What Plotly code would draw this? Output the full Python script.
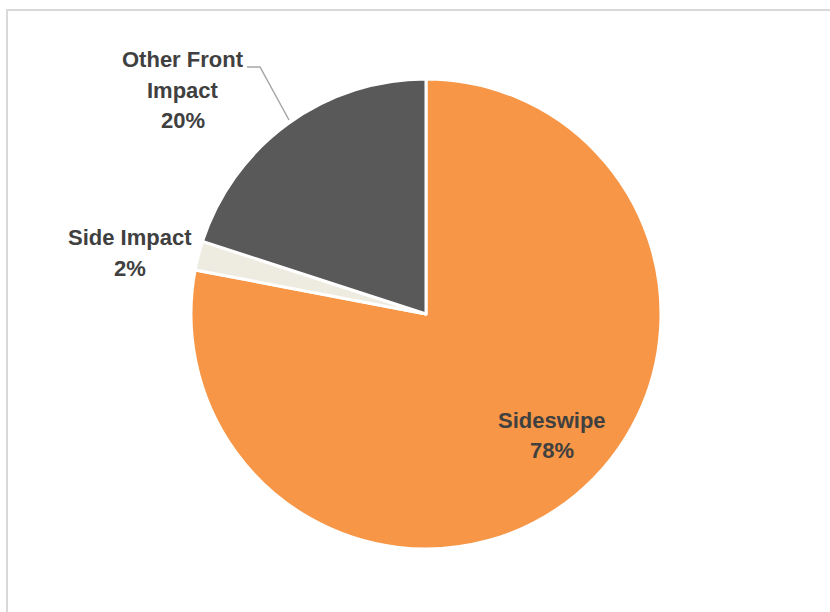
import plotly.graph_objects as go

# Crash type shares
categories = ["Sideswipe", "Side Impact", "Other Front Impact"]
shares = [78, 2, 20]
colors = ["#F79646", "#EEECE1", "#595959"]

# Wrapped label lines for each category
label_lines = [["Sideswipe"], ["Side Impact"], ["Other Front", "Impact"]]

W, H = 830, 612
cx, cy, r = 426, 314, 235

def px(x):
    return x / W

def py(y):
    return 1 - y / H

fig = go.Figure(
    go.Pie(
        labels=categories,
        values=shares,
        sort=False,
        direction="clockwise",
        rotation=0,
        marker=dict(colors=colors, line=dict(color="#FFFFFF", width=3)),
        textinfo="none",
        hoverinfo="label+percent",
        showlegend=False,
        domain=dict(x=[px(cx - r), px(cx + r)], y=[py(cy + r), py(cy - r)]),
    )
)

# Label anchor (center x, first line center y) for each category, in pixels
label_pos = [(552, 420), (130, 238), (183, 60)]
line_gap = 30.5

label_font = dict(
    family="Liberation Sans, Arial, sans-serif",
    size=22,
    color="#404040",
    weight="bold",
)

total = sum(shares)
annotations = []
for lines, val, (lx, ly) in zip(label_lines, shares, label_pos):
    pct = f"{round(val / total * 100)}%"
    for i, t in enumerate(lines + [pct]):
        annotations.append(
            dict(
                x=px(lx), y=py(ly + i * line_gap), xref="paper", yref="paper",
                text=t, showarrow=False, xanchor="center", yanchor="middle",
                font=label_font,
            )
        )

shapes = [
    # chart frame
    dict(type="rect", xref="paper", yref="paper",
         x0=px(7), y0=py(640), x1=px(860), y1=py(10),
         line=dict(color="#D9D9D9", width=2), fillcolor="rgba(0,0,0,0)", layer="below"),
    # leader line for the small-slice label
    dict(type="path", xref="paper", yref="paper",
         path=f"M {px(247)},{py(67)} L {px(260)},{py(67)} L {px(289)},{py(120)}",
         line=dict(color="#A6A6A6", width=1.5)),
]

fig.update_layout(
    width=W, height=H,
    margin=dict(l=0, r=0, t=0, b=0),
    paper_bgcolor="#FFFFFF",
    plot_bgcolor="#FFFFFF",
    annotations=annotations,
    shapes=shapes,
)

fig.write_html("out.html")
